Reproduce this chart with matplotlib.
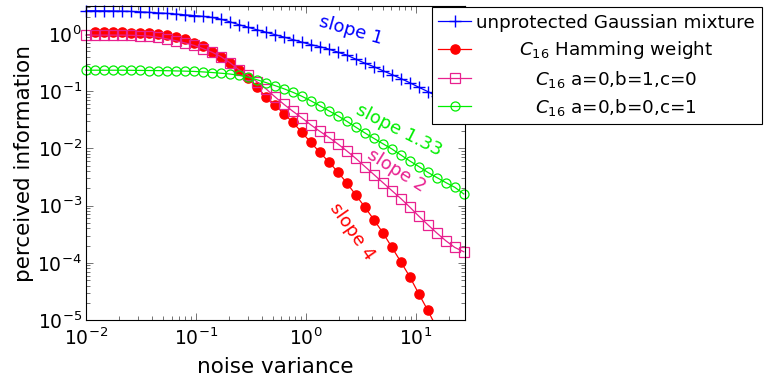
import numpy as np
import matplotlib
matplotlib.use("Agg")
import matplotlib.pyplot as plt
from matplotlib.ticker import LogLocator, NullFormatter
from matplotlib.transforms import Bbox, TransformedBbox

# === data (log-spaced noise variance grid) ===
noise_var = [0.01, 0.01207, 0.01457, 0.01759, 0.02125, 0.02565, 0.03097, 0.03738,
             0.04513, 0.05449, 0.06579, 0.07943, 0.0959, 0.1158, 0.1398, 0.1688,
             0.2037, 0.246, 0.297, 0.3585, 0.4329, 0.5227, 0.631, 0.7618, 0.9197,
             1.110, 1.341, 1.619, 1.954, 2.359, 2.848, 3.439, 4.152, 5.012, 6.051,
             7.305, 8.819, 10.65, 12.85, 15.52, 18.74, 22.62, 27.31]

gauss_mix = [2.56, 2.56, 2.55, 2.54, 2.52, 2.49, 2.45, 2.40, 2.35, 2.30,
             2.24, 2.17, 2.11, 2.04, 1.96, 1.82, 1.64, 1.46, 1.32, 1.19,
             1.08, 0.980, 0.886, 0.801, 0.724, 0.654, 0.604, 0.546, 0.483, 0.428,
             0.364, 0.310, 0.269, 0.229, 0.196, 0.167, 0.141, 0.1175, 0.0988, 0.0817,
             0.0676, 0.0559, 0.0464]

hw_c16 = [np.nan, 1.071, 1.071, 1.071, 1.071, 1.062, 1.050, 1.029, 1.000, 0.968,
          0.893, 0.811, 0.709, 0.608, 0.487, 0.400, 0.314, 0.240, 0.174, 0.1175,
          0.0807, 0.0579, 0.0403, 0.0286, 0.0191, 0.01274, 0.00851, 0.00580, 0.00387, 0.00248,
          0.00153, 9.42e-4, 5.68e-4, 3.36e-4, 1.87e-4, 1.04e-4, 5.68e-5, 2.86e-5, 1.47e-5, 7.24e-6,
          3.50e-6, 1.69e-6, 8.17e-7]

c16_010 = [0.960, 0.960, 0.960, 0.960, 0.960, 0.953, 0.941, 0.923, 0.879, 0.824,
           0.766, 0.701, 0.636, 0.557, 0.483, 0.403, 0.316, 0.238, 0.191, 0.147,
           0.1106, 0.0801, 0.0591, 0.0446, 0.0343, 0.0258, 0.0199, 0.0156, 0.0120, 0.00904,
           0.00668, 0.00483, 0.00350, 0.00253, 0.00183, 0.00133, 9.41e-4, 6.54e-4, 4.64e-4, 3.32e-4,
           2.43e-4, 1.855e-4, 1.56e-4]

c16_001 = [0.2336, 0.2336, 0.2336, 0.2336, 0.2336, 0.2326, 0.2317, 0.2307, 0.2298, 0.2289,
           0.2270, 0.2252, 0.2225, 0.2181, 0.2129, 0.2069, 0.2003, 0.1909, 0.1761, 0.1591,
           0.1421, 0.1259, 0.1106, 0.0960, 0.0817, 0.0681, 0.0557, 0.0455, 0.0372, 0.0298,
           0.0235, 0.0187, 0.0150, 0.0121, 0.00980, 0.00769, 0.00604, 0.00483, 0.00382, 0.00310,
           0.00253, 0.00209, 0.00160]

labels = ["unprotected Gaussian mixture", r"$C_{16}$ Hamming weight",
          r"$C_{16}$ a=0,b=1,c=0", r"$C_{16}$ a=0,b=0,c=1"]

BLUE, RED, MAGENTA, GREEN = "#0000ff", "#ff0000", "#e8208f", "#00ee00"

plt.rcParams["font.family"] = ["DejaVu Sans"]
plt.rcParams["mathtext.fontset"] = "dejavusans"

fig = plt.figure(figsize=(7.65, 3.78), dpi=100)
ax = fig.add_axes([86 / 765, 1 - 320 / 378, 379 / 765, 314 / 378])

lines = []
lines += ax.plot(noise_var, gauss_mix, color=BLUE, lw=0.9, marker="+", ms=8, mew=1.0)
lines += ax.plot(noise_var, hw_c16, color=RED, lw=0.9, marker="o", ms=6.6, mec=RED, mfc=RED)
lines += ax.plot(noise_var, c16_010, color=MAGENTA, lw=0.9, marker="s", ms=6.5,
                 mfc="none", mec=MAGENTA, mew=0.9)
lines += ax.plot(noise_var, c16_001, color=GREEN, lw=0.9, marker="o", ms=6.5,
                 mfc="none", mec=GREEN, mew=0.9)

ax.set_xscale("log")
ax.set_yscale("log")
ax.set_xlim(0.01, 28)
ax.set_ylim(1e-5, 3.1)

# let markers spill over the left/right/top spines like pgfplots does
clip = TransformedBbox(Bbox([[-0.03, 0.0], [1.03, 1.03]]), ax.transAxes)
for ln in lines:
    ln.set_clip_box(clip)

for axis in (ax.xaxis, ax.yaxis):
    axis.set_major_locator(LogLocator(base=10, numticks=100))
    axis.set_minor_locator(LogLocator(base=10, subs=np.arange(2, 10), numticks=100))
    axis.set_minor_formatter(NullFormatter())

ax.tick_params(which="both", direction="in", top=True, right=True, color="0.45", width=0.7)
ax.tick_params(which="major", length=5, labelsize=13.5)
ax.tick_params(which="minor", length=3)
ax.tick_params(axis="x", which="major", pad=5.5)
ax.tick_params(axis="y", which="major", pad=3)
for sp in ax.spines.values():
    sp.set_linewidth(0.8)

ax.set_xlabel("noise variance", fontsize=15.5, labelpad=6)
ax.set_ylabel("perceived information", fontsize=15.5, labelpad=2)

# slope annotations
ax.text(2.56, 1.17, "slope 1", color=BLUE, fontsize=13, rotation=-16,
        ha="center", va="center")
ax.text(7.0, 0.0207, "slope 1.33", color=GREEN, fontsize=13, rotation=-27,
        ha="center", va="center")
ax.text(6.7, 0.00411, "slope 2", color=MAGENTA, fontsize=13, rotation=-32,
        ha="center", va="center")
ax.text(2.62, 3.5e-4, "slope 4", color=RED, fontsize=13, rotation=-55,
        ha="center", va="center")

leg = fig.legend(lines, labels, loc="upper left", bbox_to_anchor=(431.7 / 765, 1 - 7.3 / 378),
                 borderaxespad=0, fontsize=13.2, handlelength=1.8, handletextpad=0.28,
                 labelspacing=0.4, borderpad=0.36, fancybox=False, framealpha=1,
                 edgecolor="black")
leg.get_frame().set_linewidth(0.8)

# centre the legend texts like pgfplots
fig.canvas.draw()
rend = fig.canvas.get_renderer()
widths = [t.get_window_extent(rend).width for t in leg.get_texts()]
for t, w in zip(leg.get_texts(), widths):
    t.set_x((max(widths) - w) / 2)

fig.savefig("out.png", dpi=100)
